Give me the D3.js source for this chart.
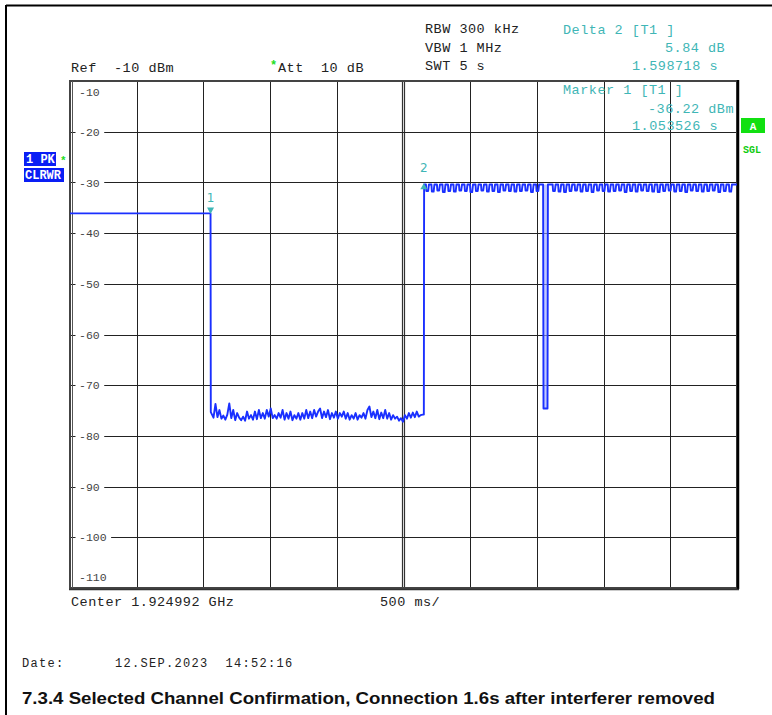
<!DOCTYPE html>
<html><head><meta charset="utf-8">
<script src="https://cdn.jsdelivr.net/npm/d3@7"></script>
<style>body{margin:0;background:#fff}svg{display:block}text{white-space:pre}</style>
</head><body>
<svg id="chart" width="772" height="715"></svg>
<script>
// ---------- data ----------
const yTicks = [-10, -20, -30, -40, -50, -60, -70, -80, -90, -100, -110];
const xDivisions = [0, 0.5, 1, 1.5, 2, 2.5, 3, 3.5, 4, 4.5, 5];
const levelBefore = [[0, -36.1], [1.0535, -36.1]];
const dropTime = 1.0555, dropDb = -75.3;
const noiseStart = 1.0757, noiseEnd = 2.644;
const noiseDb = [-76.4,-73.7,-76.3,-74.9,-76.6,-76.0,-76.8,-75.8,-73.6,-76.5,-74.9,-76.9,-75.5,-76.4,-76.9,-76.2,-77.0,-75.2,-76.6,-75.9,-76.8,-75.2,-76.7,-74.9,-76.5,-75.5,-76.6,-74.9,-76.2,-74.6,-76.5,-75.9,-76.6,-75.5,-76.4,-74.9,-76.8,-75.5,-76.6,-75.2,-76.9,-75.9,-76.6,-75.5,-76.8,-75.5,-76.6,-74.9,-76.5,-75.2,-76.5,-74.9,-76.2,-75.2,-74.6,-76.5,-75.2,-76.3,-74.9,-76.7,-75.5,-76.4,-75.2,-76.6,-75.5,-76.2,-75.2,-76.6,-75.5,-76.8,-75.9,-76.6,-75.5,-76.8,-75.9,-76.4,-75.5,-76.6,-74.9,-74.2,-76.3,-75.2,-76.5,-74.9,-76.7,-75.4,-76.5,-74.9,-76.6,-75.5,-76.8,-75.9,-76.6,-76.2,-77.0,-76.5,-77.2,-75.9,-76.6,-75.5,-76.4,-75.4,-76.3,-75.2,-76.2,-75.9,-75.8];
const stepUpTime = 2.6525;
const combLevel = -30.4;
const combStart = 2.668, combPeriod = 0.0413;
const combDipDb = [-31.7,-31.8,-31.6,-31.9,-31.7,-31.8,-31.6,-31.7,-31.9,-31.7,-31.6,-31.8,-31.7,-31.9,-31.6,-31.7,-31.8,-31.7,-31.6,-31.9,-31.7,-31.8,-31.6,-31.7,-31.8,-31.9,-31.7,-31.6,-31.8,-31.7,-31.9,-31.6,-31.7,-31.8,-31.7,-31.6,-31.9,-31.7,-31.8,-31.6,-31.7,-31.8,-31.9,-31.7,-31.6,-31.8,-31.7,-31.9,-31.6,-31.7,-31.8,-31.7,-31.6,-31.9,-31.7,-31.8];
const deepDip = [[3.5495, -74.6], [3.5795, -74.6]];
const markers = [
  {id: "1", t: 1.053526, db: -36.22, dir: "down"},
  {id: "2", t: 2.652244, db: -30.38, dir: "up"}
];
const headerLeft = [["RBW 300 kHz", 33], ["VBW 1 MHz", 52], ["SWT 5 s", 70]];
const readouts = [
  ["Delta 2 [T1 ]", 563, 34], ["5.84 dB", 665, 52], ["1.598718 s", 632, 70],
  ["Marker 1 [T1 ]", 563, 94], ["-36.22 dBm", 648, 113], ["1.053526 s", 632, 130]
];

// ---------- drawing ----------
const svg = d3.select("#chart");
const x = d3.scaleLinear().domain([0, 5]).range([70, 737]);
const y = d3.scaleLinear().domain([-10, -110]).range([81, 588]);
const mono = "'Liberation Mono','Courier New',monospace";
const teal = "#3fb6b6";
const blue = "#1a30ff";

// outer frame
svg.append("line").attr("x1", 6).attr("x2", 772).attr("y1", 5.5).attr("y2", 5.5).attr("stroke", "#000").attr("stroke-width", 2);
svg.append("line").attr("x1", 6).attr("x2", 6).attr("y1", 5).attr("y2", 715).attr("stroke", "#000").attr("stroke-width", 2);

// grid
const g = svg.append("g");
g.selectAll("line.v").data(xDivisions.filter(d => d > 0 && d < 5 && d !== 2.5)).join("line")
  .attr("x1", d => Math.round(x(d)) + 0.5).attr("x2", d => Math.round(x(d)) + 0.5)
  .attr("y1", y(-10)).attr("y2", y(-110)).attr("stroke", "#222").attr("stroke-width", 1);
[-1, 1].forEach(o => g.append("line").attr("x1", x(2.5) + o).attr("x2", x(2.5) + o)
  .attr("y1", y(-10)).attr("y2", y(-110)).attr("stroke", "#333").attr("stroke-width", 1.2));
g.selectAll("line.h").data(yTicks.filter(d => d < -10 && d > -110)).join("line")
  .attr("x1", x(0)).attr("x2", x(5))
  .attr("y1", d => Math.round(y(d)) + 0.5).attr("y2", d => Math.round(y(d)) + 0.5)
  .attr("stroke", "#222").attr("stroke-width", 1);

// frame of plot
g.append("rect").attr("x", x(0)).attr("y", y(-10)).attr("width", x(5) - x(0)).attr("height", y(-110) - y(-10))
  .attr("fill", "none").attr("stroke", "#444").attr("stroke-width", 2);
g.append("line").attr("x1", x(0) + 2.5).attr("x2", x(0) + 2.5).attr("y1", y(-10)).attr("y2", y(-110)).attr("stroke", "#555").attr("stroke-width", 1);
g.append("line").attr("x1", x(5) + 1).attr("x2", x(5) + 1).attr("y1", y(-10) - 1).attr("y2", y(-110) + 1).attr("stroke", "#000").attr("stroke-width", 2.5);
g.append("line").attr("x1", x(0) - 1).attr("x2", x(5) + 2).attr("y1", y(-110) + 1.5).attr("y2", y(-110) + 1.5).attr("stroke", "#333").attr("stroke-width", 1.5);

// y labels
const labY = d => d === -10 ? 92 : d === -110 ? 577 : y(d);
const yl = g.selectAll("g.yl").data(yTicks).join("g");
yl.each(function(d) {
  const s = d3.select(this);
  const t = s.append("text").attr("x", 79).attr("y", labY(d)).attr("dy", "0.36em")
    .attr("font-family", mono).attr("font-size", 11.5).attr("fill", "#444").text(d);
  const w = t.node().getComputedTextLength();
  if (d !== -10 && d !== -110) {
    s.insert("rect", "text").attr("x", 75.5).attr("y", labY(d) - 3).attr("width", w + 8).attr("height", 6).attr("fill", "#fff");
  }
});

// trace
const pts = [];
levelBefore.forEach(p => pts.push(p));
pts.push([dropTime, dropDb]);
noiseDb.forEach((v, i) => pts.push([noiseStart + i * (noiseEnd - noiseStart) / (noiseDb.length - 1), v]));
pts.push([stepUpTime, noiseDb[noiseDb.length - 1]]);
pts.push([stepUpTime + 0.002, combLevel]);
const dipA = deepDip[0][0] - 0.003, dipB = deepDip[1][0] + 0.003;
combDipDb.forEach((v, k) => {
  const t = combStart + k * combPeriod;
  if (t + combPeriod < dipA || t > dipB) {
    pts.push([t, combLevel], [t + combPeriod * 0.08, v], [t + combPeriod * 0.4, v], [t + combPeriod * 0.55, combLevel]);
  }
});
pts.push([dipA, combLevel], [deepDip[0][0], deepDip[0][1]], [deepDip[1][0], deepDip[1][1]], [dipB, combLevel]);
pts.push([5, combLevel]);
pts.sort((a, b) => a[0] - b[0]);
const clipped = pts.filter(p => p[0] <= 5);
// light fill inside the deep dip
svg.append("rect").attr("x", x(deepDip[0][0])).attr("y", y(combLevel)).attr("width", x(deepDip[1][0]) - x(deepDip[0][0]))
  .attr("height", y(deepDip[0][1]) - y(combLevel)).attr("fill", "#9aa6ff").attr("opacity", 0.6);
svg.append("path").datum(clipped)
  .attr("d", d3.line().x(d => x(d[0])).y(d => y(d[1])))
  .attr("fill", "none").attr("stroke", blue).attr("stroke-width", 1.9).attr("stroke-linejoin", "round");

// markers
markers.forEach(m => {
  const mx = x(m.t), my = y(m.db);
  if (m.dir === "down") {
    svg.append("path").attr("d", `M${mx - 3.5},${my - 6.5}L${mx + 3.5},${my - 6.5}L${mx},${my}Z`).attr("fill", teal);
  } else {
    svg.append("path").attr("d", `M${mx - 3.5},${my + 5}L${mx + 3.5},${my + 5}L${mx},${my - 1}Z`).attr("fill", teal);
  }
  svg.append("text").attr("x", mx).attr("y", my - 12).attr("text-anchor", "middle")
    .attr("font-family", "'DejaVu Sans',sans-serif").attr("font-size", 12).attr("fill", teal).text(m.id);
});

// header text
const txt = (s, xx, yy, col, size, ls) => svg.append("text").attr("x", xx).attr("y", yy).attr("font-family", mono)
    .attr("font-size", size || 13.5).attr("letter-spacing", ls === undefined ? 0.5 : ls).attr("fill", col || "#222").text(s);
txt("Ref  -10 dBm", 71, 72);
svg.append("text").attr("x", 270).attr("y", 69).attr("font-family", mono).attr("font-size", 12).attr("font-weight", "bold").attr("fill", "#22dd22").text("*");
txt("Att  10 dB", 278, 72);
headerLeft.forEach(h => txt(h[0], 425, h[1]));
readouts.forEach(r => txt(r[0], r[1], r[2], teal));

// left status boxes
svg.append("rect").attr("x", 24).attr("y", 152).attr("width", 32).attr("height", 14).attr("fill", "#0a1ef5");
svg.append("text").attr("x", 26).attr("y", 163).attr("font-family", mono).attr("font-size", 12).attr("font-weight", "bold").attr("fill", "#fff").text("1 PK");
svg.append("text").attr("x", 60).attr("y", 164).attr("font-family", mono).attr("font-size", 11).attr("font-weight", "bold").attr("fill", "#22dd22").text("*");
svg.append("rect").attr("x", 24).attr("y", 168).attr("width", 40).attr("height", 14).attr("fill", "#0a1ef5");
svg.append("text").attr("x", 25).attr("y", 179).attr("font-family", mono).attr("font-size", 12).attr("font-weight", "bold").attr("fill", "#fff").text("CLRWR");

// right status
svg.append("rect").attr("x", 741).attr("y", 118).attr("width", 24).attr("height", 15).attr("fill", "#11e011");
svg.append("text").attr("x", 753).attr("y", 129.5).attr("text-anchor", "middle").attr("font-family", mono).attr("font-size", 11).attr("font-weight", "bold").attr("fill", "#fff").text("A");
svg.append("text").attr("x", 743).attr("y", 153).attr("font-family", mono).attr("font-size", 10).attr("font-weight", "bold").attr("fill", "#11cc11").text("SGL");

// bottom text
txt("Center 1.924992 GHz", 71, 606);
txt("500 ms/", 380, 606);
txt("Date:", 22, 667, "#222", 12, 1.3);
txt("12.SEP.2023  14:52:16", 115, 667, "#222", 12, 1.3);
svg.append("text").attr("x", 22).attr("y", 704).attr("font-family", "'Liberation Sans',Arial,sans-serif")
  .attr("font-size", 17).attr("font-weight", "bold").attr("fill", "#111")
  .attr("textLength", 693).attr("lengthAdjust", "spacingAndGlyphs")
  .text("7.3.4 Selected Channel Confirmation, Connection 1.6s after interferer removed");
</script>
</body></html>
